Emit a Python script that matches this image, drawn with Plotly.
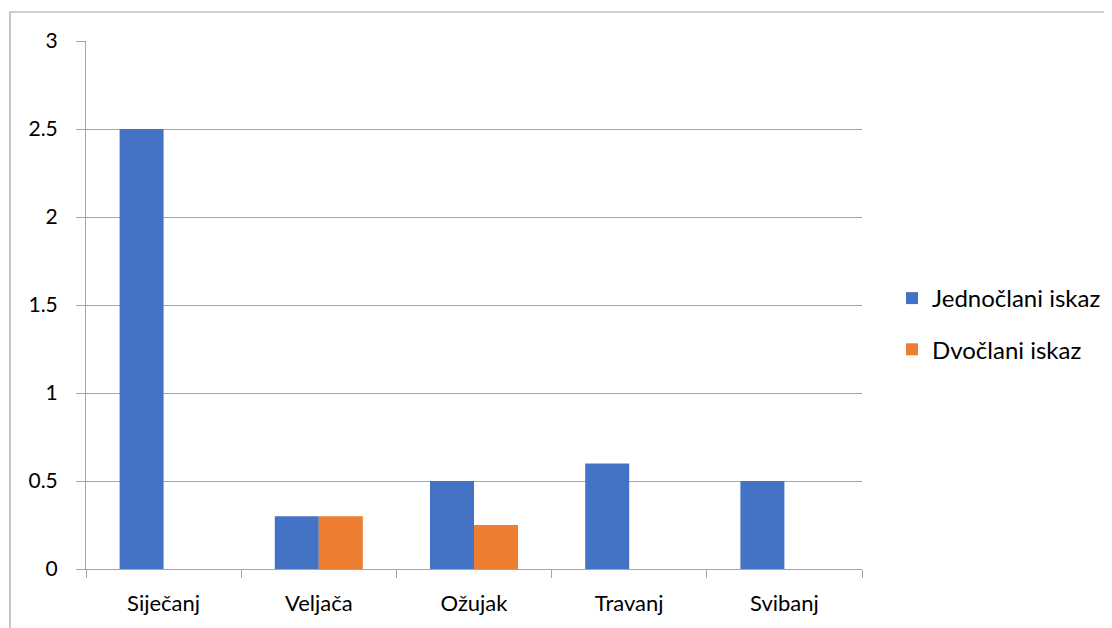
import plotly.graph_objects as go

categories = ["Siječanj", "Veljača", "Ožujak", "Travanj", "Svibanj"]
jednoclani = [2.5, 0.3, 0.5, 0.6, 0.5]
dvoclani = [0, 0.3, 0.25, 0, 0]
series_names = ["Jednočlani iskaz", "Dvočlani iskaz"]
colors = ["#4472C4", "#ED7D31"]
y_ticks = [0, 0.5, 1, 1.5, 2, 2.5, 3]
y_labels = ["0", "0.5", "1", "1.5", "2", "2.5", "3"]

fig = go.Figure()
fig.add_trace(go.Bar(x=categories, y=jednoclani, name=series_names[0],
                     marker=dict(color=colors[0], line=dict(width=0)), legendgroup="a"))
fig.add_trace(go.Bar(x=categories, y=dvoclani, name=series_names[1],
                     marker=dict(color=colors[1], line=dict(width=0)), legendgroup="b"))

OFF = 8  # page body margin
L, R, T, B = 86 - OFF, 862 - OFF, 41 - OFF, 569 - OFF
W, H = 1112, 628
pw, ph = R - L, B - T

fig.update_layout(
    width=W, height=H,
    margin=dict(l=L, r=W - R, t=T, b=H - B, pad=0, autoexpand=False),
    paper_bgcolor="white", plot_bgcolor="white",
    barmode="group", bargap=0.433, bargroupgap=0,
    font=dict(family="Lato, Carlito, sans-serif", size=22, color="#000000"),
    legend=dict(xref="container", yref="container",
                x=(892 - OFF) / W, y=(H - (276 - OFF)) / H, xanchor="left", yanchor="top",
                font=dict(size=24), tracegroupgap=17, traceorder="grouped",
                itemwidth=30, bgcolor="rgba(0,0,0,0)"),
    xaxis=dict(showgrid=False, showline=True, linecolor="#A6A6A6", linewidth=1,
               ticks="outside", tickson="boundaries", ticklen=8, tickcolor="#A6A6A6",
               tickfont=dict(size=22), ticklabelstandoff=15, fixedrange=True,
               automargin=False),
    yaxis=dict(range=[0, 3], tickvals=y_ticks, ticktext=y_labels, showgrid=True,
               gridcolor="#A6A6A6", gridwidth=1, showline=True, linecolor="#A6A6A6",
               linewidth=1, ticks="outside", ticklen=9, tickcolor="#A6A6A6",
               tickfont=dict(size=21), zeroline=False, ticklabelstandoff=14,
               fixedrange=True, automargin=False),
    shapes=[dict(type="rect", xref="paper", yref="paper",
                 x0=(10 - OFF - L) / pw, x1=(W + 20 - L) / pw,
                 y0=(B - (H + 20)) / ph, y1=(B - (12 - OFF)) / ph,
                 line=dict(color="#A0A0A0", width=1.2), fillcolor="rgba(0,0,0,0)",
                 layer="below")],
)

fig.write_html("out.html")
